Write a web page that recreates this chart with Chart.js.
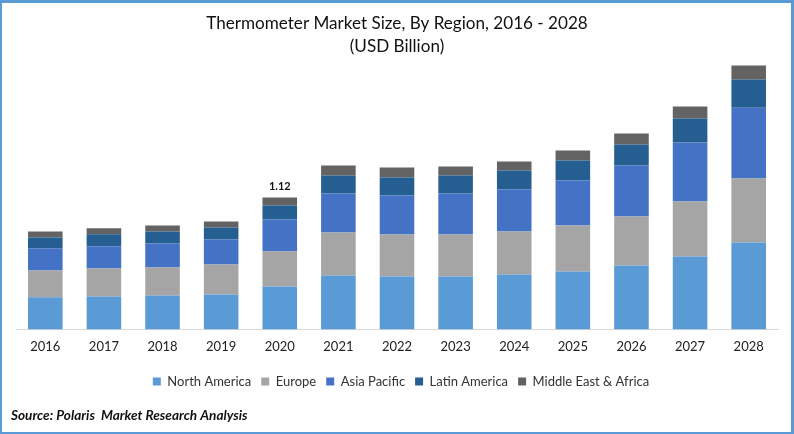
<!DOCTYPE html>
<html>
<head>
<meta charset="utf-8">
<script src="https://cdn.jsdelivr.net/npm/chart.js@4"></script>
<style>
  html, body { margin: 0; padding: 0; background: #fff; overflow: hidden; }
  #wrap { position: relative; width: 794px; height: 434px; }
  #frame {
    position: absolute; left: 0; top: 0; width: 794px; height: 434px; box-sizing: border-box;
    border: solid #5b9bd5; border-width: 3px 3px 2px 2px; pointer-events: none;
  }
</style>
</head>
<body>
<div id="wrap">
  <canvas id="marketChart" width="794" height="434"></canvas>
  <div id="frame"></div>
</div>
<script>
const years = ["2016","2017","2018","2019","2020","2021","2022","2023","2024","2025","2026","2027","2028"];
const northAmerica = [0.272,0.280,0.288,0.297,0.365,0.458,0.450,0.450,0.467,0.492,0.543,0.619,0.738];
const europe       = [0.229,0.238,0.238,0.255,0.297,0.365,0.356,0.356,0.365,0.390,0.416,0.467,0.543];
const asiaPacific  = [0.187,0.187,0.204,0.212,0.272,0.331,0.331,0.348,0.356,0.382,0.433,0.501,0.602];
const latinAmerica = [0.093,0.102,0.102,0.102,0.119,0.153,0.153,0.153,0.161,0.170,0.178,0.204,0.238];
const middleEast   = [0.051,0.051,0.051,0.051,0.068,0.085,0.085,0.076,0.076,0.085,0.093,0.102,0.119];
const callout = { year: "2020", text: "1.12" };
const sourceNote = "Source: Polaris  Market Research Analysis";

const FONT = "Lato, 'Open Sans', sans-serif";

function series(label, data, color) {
  return { label, data, backgroundColor: color, borderWidth: 0, categoryPercentage: 0.59, barPercentage: 1 };
}

// 2020 total above its stack, source line in the bottom margin
const notesPlugin = {
  id: "notes",
  afterLayout(chart) {
    // legend sits a little right of centre in the original
    chart.legend.left += 4;
    chart.legend.right += 4;
  },
  afterDatasetsDraw(chart) {
    const i = years.indexOf(callout.year);
    const top = chart.getDatasetMeta(chart.data.datasets.length - 1).data[i];
    const ctx = chart.ctx;
    ctx.save();
    ctx.font = "bold 11px " + FONT;
    ctx.fillStyle = "#111";
    ctx.textAlign = "center";
    ctx.textBaseline = "bottom";
    ctx.fillText(callout.text, top.x, top.y - 5);
    ctx.font = "italic bold 13.6px " + FONT;
    ctx.textAlign = "left";
    ctx.textBaseline = "middle";
    ctx.fillText(sourceNote, 11, 416);
    ctx.restore();
  }
};

new Chart(document.getElementById("marketChart"), {
  type: "bar",
  data: {
    labels: years,
    datasets: [
      series("North America", northAmerica, "#5b9bd5"),
      series("Europe", europe, "#a5a5a5"),
      series("Asia Pacific", asiaPacific, "#4472c4"),
      series("Latin America", latinAmerica, "#255e91"),
      series("Middle East & Africa", middleEast, "#636363")
    ]
  },
  options: {
    responsive: false,
    animation: false,
    layout: { padding: { left: 16, right: 16, top: 12, bottom: 36 } },
    plugins: {
      title: {
        display: true,
        text: ["Thermometer Market Size, By Region, 2016 - 2028", "(USD Billion)"],
        color: "#111",
        font: { family: FONT, size: 17.1, weight: "normal", lineHeight: 1.35 },
        padding: { top: 0, bottom: 2 }
      },
      legend: {
        position: "bottom",
        labels: {
          color: "#333",
          font: { family: FONT, size: 13 },
          boxWidth: 8,
          boxHeight: 8,
          padding: 10
        }
      },
      tooltip: { enabled: false }
    },
    scales: {
      x: {
        stacked: true,
        grid: { display: false, drawTicks: false },
        border: { color: "#d9d9d9", width: 1 },
        ticks: { color: "#222", font: { family: FONT, size: 13 }, padding: 10, maxRotation: 0 }
      },
      y: {
        stacked: true,
        display: false,
        min: 0,
        max: 2.286
      }
    }
  },
  plugins: [notesPlugin]
});
</script>
</body>
</html>
